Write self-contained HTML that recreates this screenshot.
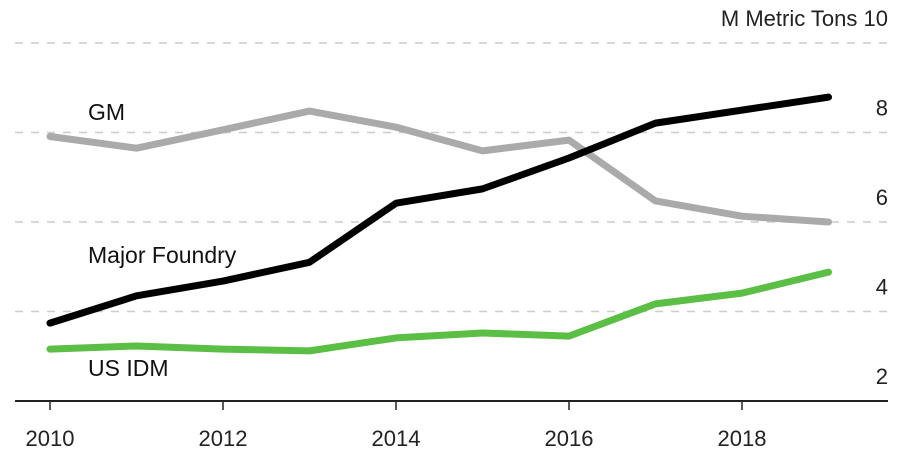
<!DOCTYPE html>
<html><head><meta charset="utf-8"><style>
html,body{margin:0;padding:0;background:#fff;}
svg{display:block;font-family:"Liberation Sans",sans-serif;}
</style></head><body>
<svg id="chart" width="907" height="469">
<g id="grid"></g><g id="lines"></g><g id="labels"></g>
</svg>
<script>
const years=[2010,2011,2012,2013,2014,2015,2016,2017,2018,2019];
const foundry=[3.74,4.35,4.68,5.1,6.42,6.74,7.43,8.21,8.5,8.79];
const gm=[7.91,7.65,8.06,8.48,8.12,7.59,7.83,6.47,6.13,6.0];
const usidm=[3.16,3.23,3.16,3.12,3.41,3.52,3.45,4.17,4.41,4.88];
const yTicks=[2,4,6,8,10];
const xTicks=[2010,2012,2014,2016,2018];
const NS="http://www.w3.org/2000/svg";
const x=v=>50+(v-2010)*86.5;
const y=v=>401-(v-2)*44.75;
function mk(tag,attrs,parent){const e=document.createElementNS(NS,tag);for(const k in attrs)e.setAttribute(k,attrs[k]);parent.appendChild(e);return e;}
const grid=document.getElementById('grid'),lines=document.getElementById('lines'),labels=document.getElementById('labels');
yTicks.forEach(t=>{
  if(t>2){const l=mk('line',{x1:15,x2:887,y1:y(t),y2:y(t),stroke:'#ccc','stroke-width':1.5,'stroke-dasharray':'8 8'},grid);
  
  }
  const tx=mk('text',{x:888,y:y(t)-17,'text-anchor':'end','font-size':22,fill:'#222'},labels);
  tx.textContent=(t===10?'M Metric Tons 10':String(t));
  if(t===10){tx.setAttribute('font-family','"Liberation Sans",sans-serif');}
  
  
});
const base=mk('line',{x1:15,x2:888,y1:401,y2:401,stroke:'#222','stroke-width':2},grid);


xTicks.forEach(t=>{
  const tk=mk('line',{x1:x(t),x2:x(t),y1:401,y2:410,stroke:'#222','stroke-width':1.5},grid);
  
  
  const tx=mk('text',{x:x(t),y:446,'text-anchor':'middle','font-size':22,fill:'#222'},labels);
  tx.textContent=String(t);
  
  
});
function series(vals,color,name){
  const p=mk('polyline',{points:vals.map((v,i)=>x(years[i])+','+y(v)).join(' '),fill:'none',stroke:color,'stroke-width':7,'stroke-linecap':'round','stroke-linejoin':'round'},lines);
  
  
}
series(gm,'#aaaaaa','gm-line');
series(usidm,'#5bbf45','us-idm-line');
series(foundry,'#000000','major-foundry-line');
[['GM',120,'gm-label'],['Major Foundry',263,'major-foundry-label'],['US IDM',376,'us-idm-label']].forEach(d=>{
  const t=mk('text',{x:88,y:d[1],'font-size':23,fill:'#111'},labels);
  t.textContent=d[0];
  
  
});
</script>
</body></html>
